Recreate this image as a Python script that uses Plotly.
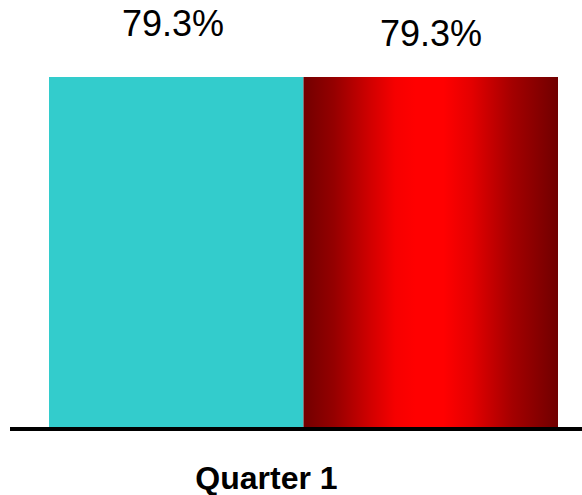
import plotly.graph_objects as go

# Data
categories = ["Quarter 1"]
series_names = ["Series A", "Series B"]
values = [79.3, 79.3]
colors = ["#33CCCC", "#FF0000"]

bar_width = 1.0
offsets = [-0.5, 0.5]   # group offsets of the two bars around the category centre
cat_pos = 0.0

fig = go.Figure()

# Plain bar
fig.add_trace(go.Bar(
    x=[cat_pos + offsets[0]], y=[values[0]], width=bar_width,
    marker=dict(color=colors[0], line=dict(width=0)),
    name=series_names[0], showlegend=False, hoverinfo="skip",
))

# Second bar: gradient-filled rectangle from its value (dark red edges, bright centre)
x0 = cat_pos + offsets[1] - bar_width / 2
x1 = cat_pos + offsets[1] + bar_width / 2
fig.add_trace(go.Scatter(
    x=[x0, x0, x1, x1, x0], y=[0, values[1], values[1], 0, 0],
    mode="lines", line=dict(width=0), fill="toself",
    fillgradient=dict(
        type="horizontal",
        colorscale=[
            [0.00, "#720000"], [0.12, "#950000"], [0.26, "#D00000"],
            [0.36, "#F60000"], [0.44, "#FF0000"], [0.55, "#FF0000"],
            [0.66, "#E40000"], [0.82, "#A40000"], [1.00, "#700000"],
        ],
    ),
    name=series_names[1], showlegend=False, hoverinfo="skip",
))

# Value labels
label_shift = [31, 21]
label_xshift = [-3, 0]
for off, v, s, dx in zip(offsets, values, label_shift, label_xshift):
    fig.add_annotation(
        x=cat_pos + off, y=v, text=f"{v:.1f}%", showarrow=False,
        yanchor="bottom", yshift=s, xshift=dx,
        font=dict(family="Liberation Sans, Arial", size=36, color="#000000"),
    )

px_per_unit = 254.5
split_px = 303.5   # pixel position of the boundary between the two bars
fig.update_layout(
    width=582, height=495,
    margin=dict(l=10, r=0, t=0, b=68),
    paper_bgcolor="white", plot_bgcolor="white",
    showlegend=False,
    xaxis=dict(
        range=[(10 - split_px) / px_per_unit, (582 - split_px) / px_per_unit],
        tickvals=[cat_pos], ticktext=categories,
        tickfont=dict(family="Liberation Sans, Arial", size=32, color="#000000", weight="bold"),
        ticklabelshift=-37, ticklabelstandoff=20,
        showline=True, linecolor="#000000", linewidth=4,
        ticks="", showgrid=False, zeroline=False, fixedrange=True,
        automargin=False,
    ),
    yaxis=dict(
        range=[0, 96.75], visible=False, showgrid=False, zeroline=False, fixedrange=True,
        automargin=False,
    ),
)

fig.write_html("out.html")
